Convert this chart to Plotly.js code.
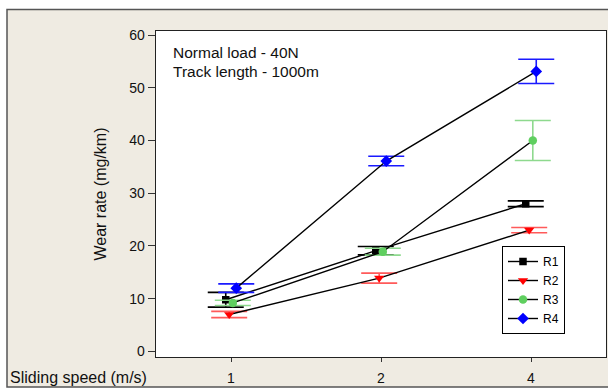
<!DOCTYPE html>
<html>
<head>
<meta charset="utf-8">
<script src="https://cdn.plot.ly/plotly-3.0.1.min.js"></script>
<style>html,body{margin:0;padding:0;background:#fff;}#chart{width:608px;height:389px;}</style>
</head>
<body>
<div id="chart"></div>
<script>
// Sliding speed categories (m/s)
const speeds = ["1", "2", "4"];
const seriesNames = ["R1", "R2", "R3", "R4"];
// Wear rate (mg/km) and error (±)
const r1 = [9.8, 19.1, 28.0];
const r1Err = [1.4, 0.8, 0.55];
const r2 = [7.0, 13.9, 23.0];
const r2Err = [0.6, 0.95, 0.5];
const r3 = [9.2, 18.9, 40.0];
const r3Err = [0.5, 0.65, 3.8];
const r4 = [12.0, 36.1, 53.1];
const r4Err = [0.8, 0.9, 2.3];

const values = [r1, r2, r3, r4];
const errors = [r1Err, r2Err, r3Err, r4Err];
const markerColors = ["#000000", "#ff0000", "#5fcf5f", "#0000ff"];
const errColors = ["#000000", "#ff5a5a", "#8ed98e", "#1a1aff"];
const symbols = ["square", "triangle-down", "circle", "diamond"];
const sizes = [7.5, 9, 8.5, 9];
const dodge = [-0.035, -0.012, 0.012, 0.035];

const traces = seriesNames.map((name, i) => ({
  type: "scatter",
  mode: "lines+markers",
  name: name,
  x: speeds.map((s, k) => k + dodge[i]),
  y: values[i],
  line: {color: "#000000", width: 1.4},
  marker: {color: markerColors[i], symbol: symbols[i], size: sizes[i], line: {width: 0}},
  error_y: {type: "data", array: errors[i], visible: true, color: errColors[i], thickness: 1.6, width: 18}
}));

const W = 450, H = 326, L = 156, T = 31; // plot area geometry (px)
const px = v => (v - L) / W;
const py = v => (T + H - v) / H;

const layout = {
  width: 608, height: 389,
  margin: {l: 156, r: 2, t: 31, b: 32},
  paper_bgcolor: "#ffffff",
  plot_bgcolor: "#ffffff",
  font: {family: "Liberation Sans, Arial, sans-serif", color: "#111"},
  showlegend: true,
  legend: {
    x: px(502), y: py(290), xanchor: "left", yanchor: "middle",
    bgcolor: "#ffffff", bordercolor: "#000000", borderwidth: 1,
    font: {size: 12, color: "#000"}, tracegroupgap: 0
  },
  xaxis: {
    range: [-0.5, 2.5],
    tickvals: [0, 1, 2], ticktext: speeds,
    ticks: "outside", ticklen: 4, tickcolor: "#333",
    ticklabelstandoff: 4,
    tickfont: {size: 14, color: "#111"},
    showgrid: false, zeroline: false,
    showline: true, linecolor: "#222", linewidth: 1.3, mirror: true
  },
  yaxis: {
    range: [-1.06, 60.76],
    dtick: 10, tick0: 0,
    ticks: "outside", ticklen: 7, tickcolor: "#333",
    ticklabelstandoff: 0,
    tickfont: {size: 14, color: "#111"},
    showgrid: false, zeroline: false,
    showline: true, linecolor: "#222", linewidth: 1.3, mirror: true,
    title: {text: "Wear rate (mg/km)", font: {size: 16, color: "#111"}, standoff: 18}
  },
  shapes: [
    {type: "rect", xref: "paper", yref: "paper", layer: "below",
     x0: px(7), x1: px(620), y0: py(387), y1: py(9.5),
     fillcolor: "#efebe2", line: {color: "#555", width: 1.5}},
    {type: "rect", xref: "paper", yref: "paper", layer: "below",
     x0: 0, x1: 1, y0: 0, y1: 1,
     fillcolor: "#ffffff", line: {width: 0}}
  ],
  annotations: [
    {xref: "paper", yref: "paper", x: px(171), y: py(52.3), xanchor: "left", yanchor: "middle",
     text: "Normal load - 40N", showarrow: false, font: {size: 15.5, color: "#111"}},
    {xref: "paper", yref: "paper", x: px(171), y: py(71.7), xanchor: "left", yanchor: "middle",
     text: "Track length - 1000m", showarrow: false, font: {size: 15.5, color: "#111"}},
    {xref: "paper", yref: "paper", x: px(8), y: py(377), xanchor: "left", yanchor: "middle",
     text: "Sliding speed (m/s)", showarrow: false, font: {size: 16, color: "#111"}}
  ]
};

Plotly.newPlot("chart", traces, layout, {displayModeBar: false, staticPlot: true});
</script>
</body>
</html>
